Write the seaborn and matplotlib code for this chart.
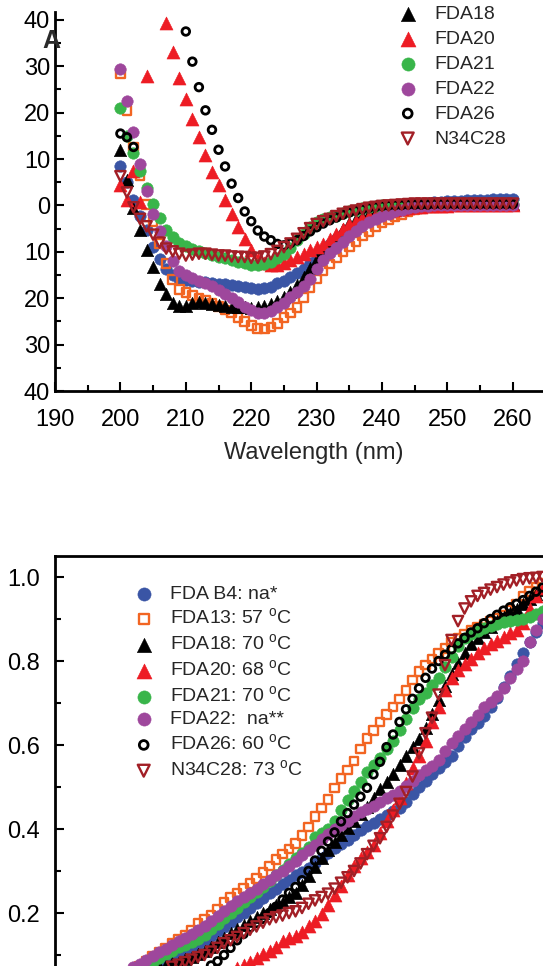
import numpy as np
import pandas as pd
import matplotlib
matplotlib.use("Agg")
import matplotlib.pyplot as plt
import seaborn as sns

# ---------------------------------------------------
# Data
# ---------------------------------------------------

names = ["FDA B4", "FDA13", "FDA18", "FDA20", "FDA21", "FDA22", "FDA26", "N34C28"]

# Panel A: CD spectra, 200-260 nm in 1 nm steps
wavelength = np.arange(200, 261)

cd_b4 = [8.5, 5.0, 1.1, -2.3, -5.2, -9.0, -11.5, -13.6, -15.1, -15.8,
         -16.1, -16.3, -16.4, -16.5, -16.7, -16.9, -17.0, -17.2, -17.4, -17.6,
         -17.8, -18.0, -17.8, -17.5, -16.8, -16.2, -15.4, -14.6, -13.6, -12.5,
         -11.2, -9.8, -8.4, -7.2, -6.2, -5.4, -4.7, -4.0, -3.3, -2.5,
         -1.9, -1.3, -0.8, -0.4, -0.1, 0.2, 0.4, 0.6, 0.7, 0.8,
         0.9, 1.0, 1.0, 1.1, 1.1, 1.2, 1.2, 1.3, 1.3, 1.4, 1.4]
cd_13 = [28.4, 20.5, 12.6, 6.5, 0.2, -3.5, -8.2, -12.5, -16.0, -18.1,
         -18.8, -19.4, -20.0, -20.5, -21.1, -21.8, -22.5, -23.2, -24.2, -25.0,
         -25.9, -26.5, -26.6, -26.2, -25.4, -24.2, -23.2, -22.0, -19.8, -17.8,
         -15.9, -14.0, -12.6, -11.2, -9.9, -8.8, -7.8, -6.6, -5.6, -4.6,
         -3.8, -3.1, -2.5, -1.9, -1.4, -1.0, -0.7, -0.5, -0.4, -0.3,
         -0.2, -0.1, -0.1, 0.0, 0.0, 0.0, 0.1, 0.1, 0.1, 0.1, 0.1]
cd_18 = [12.0, 5.4, -0.5, -5.4, -9.7, -13.3, -16.9, -19.0, -21.0, -21.6,
         -21.6, -21.1, -20.8, -21.0, -21.3, -21.5, -21.7, -21.9, -21.9, -22.0,
         -22.2, -22.0, -21.7, -21.3, -20.5, -19.7, -18.6, -17.2, -15.5, -13.5,
         -11.5, -9.5, -7.8, -6.3, -5.0, -3.8, -2.9, -2.2, -1.6, -1.2,
         -0.8, -0.5, -0.3, -0.1, 0.0, 0.1, 0.2, 0.2, 0.2, 0.3,
         0.3, 0.3, 0.3, 0.3, 0.3, 0.3, 0.3, 0.3, 0.3, 0.3, 0.3]
cd_20 = [4.3, 1.1, 7.5, 0.7, 27.8, np.nan, np.nan, 39.4, 33.0, 27.4,
         23.0, 18.7, 14.7, 10.8, 7.2, 4.3, 1.1, -1.8, -4.7, -7.2,
         -9.5, -11.5, -12.5, -12.9, -12.8, -12.5, -11.8, -11.1, -10.4, -9.7,
         -9.0, -8.3, -7.2, -6.1, -5.0, -4.0, -3.3, -2.7, -2.2, -1.8,
         -1.5, -1.2, -0.9, -0.7, -0.6, -0.4, -0.3, -0.2, -0.2, -0.1,
         -0.1, 0.0, 0.0, 0.1, 0.1, 0.1, 0.1, 0.2, 0.2, 0.2, 0.2]
cd_21 = [20.9, 15.0, 11.2, 7.5, 3.8, 0.3, -2.8, -5.4, -6.8, -8.0,
         -8.8, -9.3, -9.8, -10.3, -10.7, -11.1, -11.4, -11.8, -12.1, -12.5,
         -12.8, -12.9, -12.6, -12.1, -11.4, -10.4, -9.1, -7.5, -6.1, -4.7,
         -3.6, -2.9, -2.5, -2.2, -1.7, -1.2, -0.9, -0.5, -0.3, -0.1,
         0.0, 0.1, 0.1, 0.2, 0.2, 0.2, 0.3, 0.3, 0.3, 0.3,
         0.3, 0.3, 0.4, 0.4, 0.4, 0.4, 0.4, 0.4, 0.4, 0.4, 0.4]
cd_22 = [29.5, 22.5, 15.8, 9.0, 3.2, -1.9, -5.5, -8.8, -12.0, -14.2,
         -15.1, -15.7, -16.2, -16.8, -17.4, -18.2, -19.0, -20.0, -20.9, -21.8,
         -22.6, -23.2, -23.2, -22.8, -22.0, -21.0, -19.8, -18.6, -17.3, -15.8,
         -13.6, -11.8, -10.3, -9.1, -7.8, -6.6, -5.5, -4.5, -3.6, -2.9,
         -2.3, -1.8, -1.3, -0.9, -0.6, -0.4, -0.2, -0.1, 0.0, 0.0,
         0.0, 0.0, 0.0, 0.0, 0.0, 0.0, 0.0, 0.0, 0.0, 0.0, 0.0]
cd_26 = [15.5, 14.7, 12.6, np.nan, np.nan, np.nan, np.nan, np.nan, np.nan, np.nan,
         37.5, 31.0, 25.5, 20.5, 16.3, 12.0, 8.4, 4.7, 1.6, -1.3,
         -3.4, -5.4, -6.7, -7.5, -8.3, -8.6, -8.1, -7.5, -6.6, -5.6,
         -4.7, -3.9, -3.2, -2.6, -2.0, -1.5, -1.1, -0.8, -0.5, -0.3,
         -0.1, 0.0, 0.1, 0.1, 0.2, 0.2, 0.2, 0.2, 0.3, 0.3,
         0.3, 0.3, 0.3, 0.3, 0.3, 0.3, 0.3, 0.3, 0.3, 0.3, 0.3]
cd_n34 = [6.3, 2.8, -0.4, -2.9, -4.5, -6.3, -8.0, -9.3, -9.9, -10.4,
          -10.8, -10.6, -10.4, -10.4, -10.6, -10.8, -10.8, -11.0, -11.1, -11.1,
          -11.3, -11.3, -11.0, -10.5, -9.8, -9.0, -8.2, -7.2, -6.0, -4.9,
          -4.0, -3.4, -2.9, -2.3, -1.8, -1.4, -1.1, -0.8, -0.5, -0.3,
          -0.1, 0.0, 0.1, 0.2, 0.3, 0.4, 0.4, 0.4, 0.4, 0.4,
          0.4, 0.4, 0.4, 0.4, 0.4, 0.4, 0.4, 0.4, 0.4, 0.4, 0.4]
cd_values = [cd_b4, cd_13, cd_18, cd_20, cd_21, cd_22, cd_26, cd_n34]

cd_yticks = [-40, -30, -20, -10, 0, 10, 20, 30, 40]
cd_ytick_labels = ["40", "30", "20", "10", "0", "10", "20", "30", "40"]
cd_xticks = [190, 200, 210, 220, 230, 240, 250, 260]

# Panel B: thermal melt (fraction unfolded), 1 degree steps from the first visible point
melt_start = [35, 33, 36, 48, 34, 32, 44, 38]
melt_b4 = [0.072, 0.08, 0.087, 0.093, 0.10, 0.108, 0.115, 0.123, 0.133, 0.145,
           0.156, 0.166, 0.178, 0.19, 0.20, 0.212, 0.224, 0.236, 0.248, 0.258,
           0.268, 0.279, 0.29, 0.298, 0.308, 0.32, 0.332, 0.343, 0.354, 0.364,
           0.375, 0.386, 0.398, 0.407, 0.415, 0.424, 0.434, 0.442, 0.451, 0.464,
           0.483, 0.50, 0.515, 0.53, 0.545, 0.56, 0.575, 0.598, 0.618, 0.638,
           0.652, 0.67, 0.69, 0.712, 0.738, 0.765, 0.792, 0.82, 0.845, 0.87, 0.89]
melt_13 = [0.073, 0.085, 0.097, 0.107, 0.117, 0.128, 0.138, 0.148, 0.16, 0.175,
           0.185, 0.195, 0.21, 0.225, 0.237, 0.248, 0.258, 0.27, 0.282, 0.297,
           0.312, 0.327, 0.34, 0.352, 0.365, 0.385, 0.405, 0.43, 0.45, 0.47,
           0.498, 0.52, 0.54, 0.562, 0.59, 0.615, 0.635, 0.655, 0.672, 0.69,
           0.71, 0.73, 0.755, 0.775, 0.79, 0.805, 0.818, 0.83, 0.845, 0.855,
           0.863, 0.872, 0.88, 0.888, 0.895, 0.902, 0.91, 0.92, 0.935, 0.955,
           0.965, 0.975, 0.985]
melt_18 = [0.073, 0.076, 0.08, 0.084, 0.09, 0.096, 0.103, 0.11, 0.12, 0.13,
           0.14, 0.152, 0.162, 0.172, 0.182, 0.191, 0.2, 0.209, 0.218, 0.227,
           0.237, 0.248, 0.266, 0.288, 0.31, 0.33, 0.35, 0.37, 0.385, 0.402,
           0.418, 0.435, 0.452, 0.475, 0.495, 0.512, 0.532, 0.552, 0.575, 0.595,
           0.615, 0.64, 0.675, 0.708, 0.74, 0.77, 0.795, 0.82, 0.84, 0.855,
           0.87, 0.882, 0.895, 0.905, 0.915, 0.925, 0.935, 0.948, 0.96, 0.97]
melt_20 = [0.07, 0.077, 0.084, 0.093, 0.103, 0.11, 0.12, 0.133, 0.14, 0.146,
           0.155, 0.168, 0.18, 0.198, 0.218, 0.242, 0.265, 0.29, 0.312, 0.33,
           0.345, 0.362, 0.39, 0.418, 0.445, 0.475, 0.51, 0.545, 0.575, 0.61,
           0.655, 0.69, 0.73, 0.76, 0.778, 0.793, 0.805, 0.818, 0.83, 0.84,
           0.848, 0.857, 0.866, 0.875, 0.89, 0.925, 0.955, 0.975]
melt_21 = [0.075, 0.083, 0.092, 0.102, 0.11, 0.118, 0.125, 0.131, 0.138, 0.148,
           0.161, 0.174, 0.187, 0.20, 0.213, 0.226, 0.238, 0.25, 0.263, 0.276,
           0.29, 0.303, 0.316, 0.33, 0.343, 0.356, 0.38, 0.39, 0.40, 0.418,
           0.445, 0.468, 0.49, 0.512, 0.535, 0.553, 0.57, 0.59, 0.61, 0.635,
           0.662, 0.688, 0.71, 0.725, 0.742, 0.76, 0.785, 0.81, 0.835, 0.855,
           0.865, 0.872, 0.878, 0.884, 0.888, 0.893, 0.896, 0.898, 0.90, 0.905,
           0.912, 0.92]
melt_22 = [0.072, 0.078, 0.087, 0.097, 0.106, 0.115, 0.125, 0.134, 0.141, 0.149,
           0.159, 0.17, 0.182, 0.193, 0.205, 0.217, 0.228, 0.238, 0.248, 0.258,
           0.268, 0.279, 0.29, 0.30, 0.312, 0.325, 0.337, 0.35, 0.362, 0.376,
           0.388, 0.40, 0.41, 0.42, 0.43, 0.44, 0.448, 0.455, 0.464, 0.474,
           0.482, 0.49, 0.502, 0.515, 0.528, 0.54, 0.55, 0.565, 0.585, 0.605,
           0.622, 0.638, 0.655, 0.672, 0.69, 0.703, 0.717, 0.735, 0.76, 0.78,
           0.80, 0.845, 0.875, 0.90]
melt_26 = [0.075, 0.085, 0.10, 0.117, 0.135, 0.15, 0.165, 0.176, 0.187, 0.20,
           0.215, 0.232, 0.248, 0.262, 0.278, 0.30, 0.325, 0.348, 0.37, 0.392,
           0.418, 0.438, 0.458, 0.477, 0.498, 0.53, 0.56, 0.595, 0.625, 0.655,
           0.685, 0.71, 0.735, 0.76, 0.782, 0.80, 0.815, 0.828, 0.842, 0.855,
           0.868, 0.878, 0.89, 0.90, 0.91, 0.92, 0.928, 0.936, 0.945, 0.955,
           0.965, 0.975]
melt_n34 = [0.072, 0.077, 0.083, 0.089, 0.095, 0.10, 0.108, 0.117, 0.128, 0.135,
            0.143, 0.152, 0.16, 0.168, 0.177, 0.185, 0.19, 0.194, 0.2, 0.204,
            0.212, 0.222, 0.23, 0.238, 0.246, 0.258, 0.272, 0.285, 0.30, 0.318,
            0.34, 0.36, 0.378, 0.405, 0.432, 0.46, 0.488, 0.525, 0.58, 0.628,
            0.665, 0.72, 0.79, 0.85, 0.895, 0.925, 0.942, 0.955, 0.962, 0.97,
            0.976, 0.982, 0.987, 0.992, 0.995, 0.997, 0.998, 1.0]
melt_values = [melt_b4, melt_13, melt_18, melt_20, melt_21, melt_22, melt_26, melt_n34]

melt_labels = ["FDA B4: na*",
               "FDA13: 57 $^\\mathrm{o}$C",
               "FDA18: 70 $^\\mathrm{o}$C",
               "FDA20: 68 $^\\mathrm{o}$C",
               "FDA21: 70 $^\\mathrm{o}$C",
               "FDA22:  na**",
               "FDA26: 60 $^\\mathrm{o}$C",
               "N34C28: 73 $^\\mathrm{o}$C"]
melt_yticks = [0.2, 0.4, 0.6, 0.8, 1.0]

# ---------------------------------------------------
# Styles
# ---------------------------------------------------

colors = {"FDA B4": "#3a55a5", "FDA13": "#f26522", "FDA18": "#000000",
          "FDA20": "#ed1c24", "FDA21": "#39b54a", "FDA22": "#9e479c",
          "FDA26": "#000000", "N34C28": "#a21f26"}
# marker, size, filled, edge width
styles = {"FDA B4": ("o", 68, True, 0.4), "FDA13": ("s", 38, False, 1.7),
          "FDA18": ("^", 80, True, 0.4), "FDA20": ("^", 88, True, 0.4),
          "FDA21": ("o", 68, True, 0.4), "FDA22": ("o", 68, True, 0.4),
          "FDA26": ("o", 30, False, 2.0), "N34C28": ("v", 55, False, 1.7)}


def marker_kws(name):
    m, s, filled, lw = styles[name]
    c = colors[name]
    if filled:
        return dict(marker=m, s=s, color=c, edgecolor=c, linewidth=lw)
    return dict(marker=m, s=s, color=c, facecolor="none", edgecolor=c, linewidth=lw)


rows = []
for name, vals in zip(names, cd_values):
    rows.append(pd.DataFrame({"sample": name, "wavelength": wavelength, "cd": vals}))
cd_df = pd.concat(rows, ignore_index=True)

rows = []
for name, start, vals in zip(names, melt_start, melt_values):
    temp = np.arange(start, start + len(vals))
    rows.append(pd.DataFrame({"sample": name, "temp": temp, "frac": vals}))
melt_df = pd.concat(rows, ignore_index=True)

sns.set_style("ticks")
plt.rcParams["font.family"] = ["Liberation Sans", "DejaVu Sans"]
plt.rcParams["mathtext.fontset"] = "custom"
plt.rcParams["mathtext.rm"] = "Liberation Sans"

W, H, DPI = 543, 966, 100
fig = plt.figure(figsize=(W / DPI, H / DPI), dpi=DPI)


def px_rect(left, top, right, bottom):
    return [left / W, 1 - bottom / H, (right - left) / W, (bottom - top) / H]


def fig_xy(px, py):
    return (px / W, 1 - py / H)


def style_axis(ax):
    ax.tick_params(which="both", direction="in", width=1.5, colors="black", labelsize=17)
    ax.tick_params(which="major", length=6.5)
    ax.tick_params(which="minor", length=4.3)
    for sp in ax.spines.values():
        sp.set_linewidth(2.0)
        sp.set_color("black")


# ---------------------------------------------------
# Panel A
# ---------------------------------------------------
ax1 = fig.add_axes(px_rect(55, 12, 575, 391))
for name in names:
    sub = cd_df[cd_df["sample"] == name]
    sns.scatterplot(data=sub, x="wavelength", y="cd", ax=ax1, label=name,
                    legend=False, **marker_kws(name))
ax1.set_xlim(190, 269.5)
ax1.set_ylim(-40, 41.7)
ax1.set_xticks(cd_xticks)
ax1.set_xticks(np.arange(195, 270, 10), minor=True)
ax1.set_yticks(cd_yticks, labels=cd_ytick_labels)
ax1.set_yticks(np.arange(-35, 40, 10), minor=True)
ax1.spines["top"].set_visible(False)
ax1.spines["right"].set_visible(False)
style_axis(ax1)
ax1.tick_params(axis="y", pad=3.6)
ax1.tick_params(axis="x", pad=13.0)
ax1.set_ylabel("")
ax1.set_xlabel("Wavelength (nm)", fontsize=17)
ax1.xaxis.label.set_va("center")
ax1.xaxis.set_label_coords((314 - 55) / 520, (391 - 453.5) / 379)

handles, labels = ax1.get_legend_handles_labels()
ax1.legend(handles, labels, loc="upper left", bbox_to_anchor=fig_xy(398, -45),
           bbox_transform=fig.transFigure, frameon=False, fontsize=14,
           handlelength=1.0, handletextpad=0.85, labelspacing=0.38,
           borderpad=0, borderaxespad=0, markerscale=1.15, scatterpoints=1)

fig.text(51 / W, 1 - 41 / H, "A", ha="center", va="center", fontsize=18,
         fontweight="bold", color="#2a2a2a")

# ---------------------------------------------------
# Panel B
# ---------------------------------------------------
ax2 = fig.add_axes(px_rect(55, 556, 575, 997))
for name in names:
    sub = melt_df[melt_df["sample"] == name]
    sns.scatterplot(data=sub, x="temp", y="frac", ax=ax2, label=name,
                    legend=False, **marker_kws(name))
ax2.set_xlim(20, 100)
ax2.set_ylim(0, 1.05)
ax2.set_yticks(melt_yticks, labels=[f"{v:.1f}" for v in melt_yticks])
ax2.set_yticks(np.arange(0.1, 1.0, 0.2), minor=True)
ax2.set_xticks([])
ax2.spines["right"].set_visible(False)
ax2.spines["bottom"].set_visible(False)
style_axis(ax2)
ax2.tick_params(axis="y", pad=10.8)
ax2.set_xlabel("")
ax2.set_ylabel("")

handles, _ = ax2.get_legend_handles_labels()
ax2.legend(handles, melt_labels, loc="upper left", bbox_to_anchor=fig_xy(134, 585),
           bbox_transform=fig.transFigure, frameon=False, fontsize=14,
           handlelength=1.0, handletextpad=0.85, labelspacing=0.26,
           borderpad=0, borderaxespad=0, markerscale=1.15, scatterpoints=1)

fig.savefig("out.png", dpi=DPI)
